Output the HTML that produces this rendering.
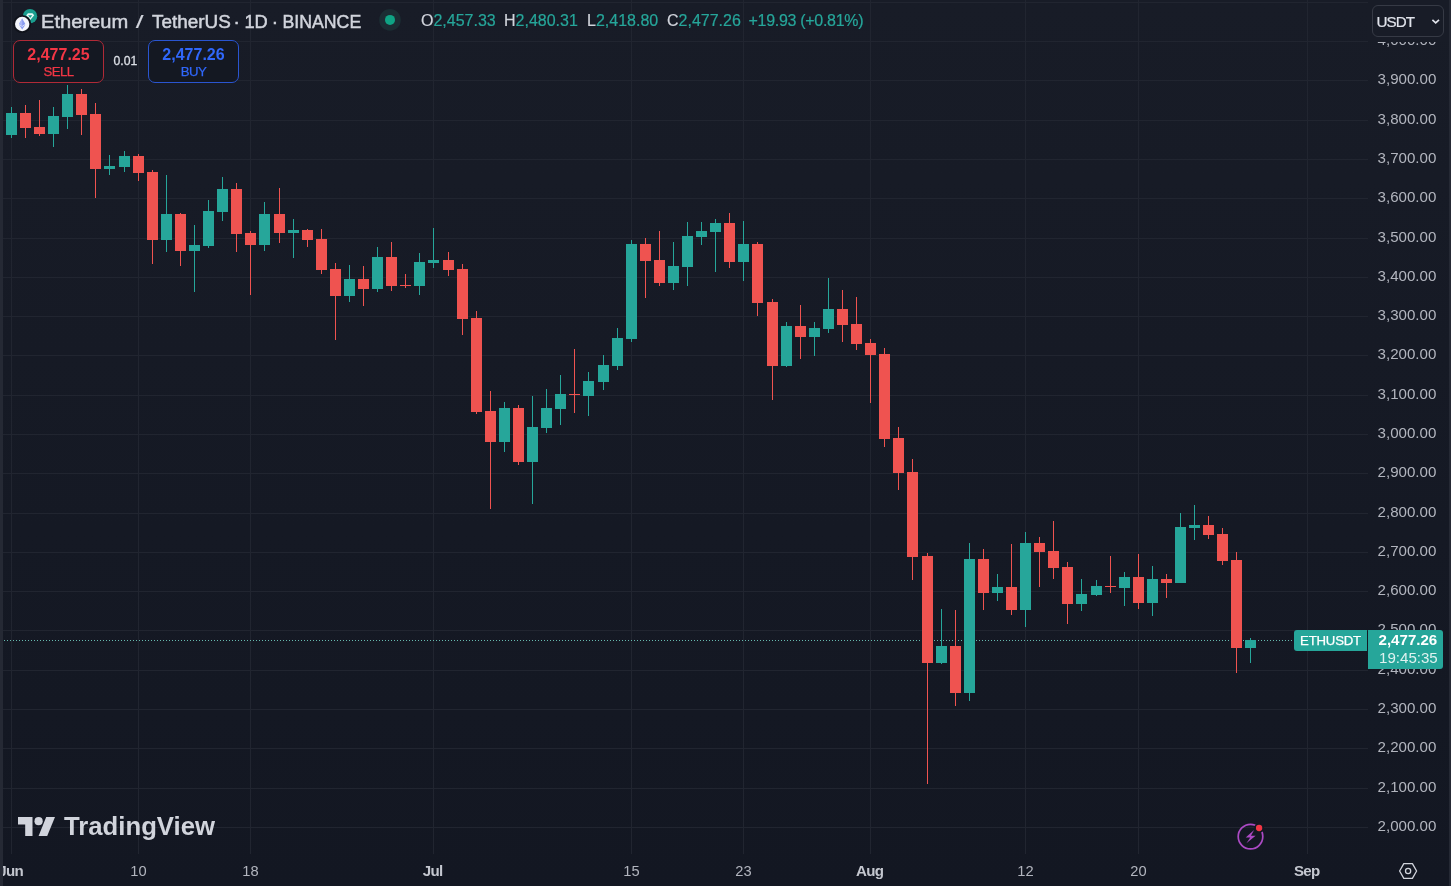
<!DOCTYPE html>
<html><head><meta charset="utf-8"><title>ETHUSDT</title>
<style>
*{margin:0;padding:0;box-sizing:border-box}
html,body{width:1451px;height:886px;overflow:hidden}
#root{position:absolute;left:0;top:0;width:1451px;height:886px;will-change:transform}
body{position:relative;background:linear-gradient(180deg,#181c27 0%,#131722 100%);font-family:"Liberation Sans",sans-serif;color:#d1d4dc}
.abs{position:absolute}
.hg{position:absolute;left:3px;width:1365px;height:1px;background:#212530}
.vg{position:absolute;top:0;width:1px;height:854px;background:#212530}
.pl{position:absolute;left:1377.6px;width:60px;height:20px;line-height:20px;font-size:15.1px;color:#b2b5be;white-space:nowrap}
.tl{position:absolute;top:860px;width:81px;height:22px;line-height:22px;text-align:center;font-size:14.7px;color:#b2b5be}
.tl.b{font-weight:bold;color:#c4c7cf;font-size:15.1px;letter-spacing:-0.7px;line-height:21.4px}
#lstrip{position:absolute;left:0;top:0;width:3px;height:886px;background:#252934}
#rstrip{position:absolute;left:1449px;top:0;width:2px;height:886px;background:#252934}

.t{position:absolute;white-space:nowrap;line-height:1}
#title{left:41.6px;top:12.3px;font-size:18.9px;color:#d1d4dc;letter-spacing:0.02px;-webkit-text-stroke:0.35px #d1d4dc}
.leg{top:13.4px;font-size:16px;color:#26a69a;-webkit-text-stroke:0.2px}
.leg i{font-style:normal;color:#d1d4dc}
.btn{position:absolute;top:40px;width:91px;height:43px;border-radius:7px;border:1px solid;text-align:center}
.btn b{display:block;font-size:16px;line-height:16px;margin-top:5.7px;letter-spacing:0px}
.btn span{display:block;font-size:13.2px;line-height:15px;margin-top:1.2px;letter-spacing:-0.6px;-webkit-text-stroke:0.25px}
#sell{left:13px;border-color:#b02a37;color:#f23645;background:#141822}
#buy{left:148px;border-color:#2a55d0;color:#3067fa;background:#141822}
#spread{left:113.5px;top:55px;font-size:12.2px;color:#dcdfe6;-webkit-text-stroke:0.3px}
#usdtcover{position:absolute;left:1368px;top:0;width:81px;height:42px;background:#181c27}
#usdt{position:absolute;left:1372px;top:5px;width:72px;height:32px;border:1px solid #363a45;border-radius:6px;background:#181c27}
#usdt span{position:absolute;left:3.6px;top:7.6px;font-size:15.2px;line-height:16px;color:#e0e3eb;letter-spacing:-1px;-webkit-text-stroke:0.2px}
#pline{position:absolute;left:0px;top:640px;width:1294px;height:1px;background-image:linear-gradient(90deg,#66baaf 0,#66baaf 1px,transparent 1px,transparent 3px);background-size:3px 1px;background-position:1px 0}
#symlab{position:absolute;left:1294px;top:630px;width:73px;height:21px;background:#26a69a;border-radius:3px 0 0 3px;color:#fff;font-size:13.2px;line-height:21px;text-align:center;letter-spacing:-0.2px;-webkit-text-stroke:0.25px}
#prlab{position:absolute;left:1368px;top:630px;width:75px;height:39px;background:#26a69a;border-radius:0 3px 3px 0;color:#fff}
#prlab b{position:absolute;left:10.5px;top:0.5px;font-size:15.1px;line-height:18px;font-weight:bold}
#prlab span{position:absolute;left:11px;top:18.5px;font-size:15.1px;line-height:18px;color:rgba(255,255,255,.85)}
</style></head><body><div id="root">
<div id="grid">
<div class="hg" style="top:2px"></div><div class="hg" style="top:41px"></div><div class="hg" style="top:80px"></div><div class="hg" style="top:120px"></div><div class="hg" style="top:159px"></div><div class="hg" style="top:198px"></div><div class="hg" style="top:238px"></div><div class="hg" style="top:277px"></div><div class="hg" style="top:316px"></div><div class="hg" style="top:355px"></div><div class="hg" style="top:395px"></div><div class="hg" style="top:434px"></div><div class="hg" style="top:473px"></div><div class="hg" style="top:513px"></div><div class="hg" style="top:552px"></div><div class="hg" style="top:591px"></div><div class="hg" style="top:630px"></div><div class="hg" style="top:670px"></div><div class="hg" style="top:709px"></div><div class="hg" style="top:748px"></div><div class="hg" style="top:788px"></div><div class="hg" style="top:827px"></div>
<div class="vg" style="left:11px"></div><div class="vg" style="left:138px"></div><div class="vg" style="left:250px"></div><div class="vg" style="left:433px"></div><div class="vg" style="left:631px"></div><div class="vg" style="left:743px"></div><div class="vg" style="left:870px"></div><div class="vg" style="left:1025px"></div><div class="vg" style="left:1138px"></div><div class="vg" style="left:1307px"></div>
</div>
<div id="pline"></div>
<svg class="abs" style="left:0;top:0" width="1368" height="853" shape-rendering="crispEdges">
<rect x="11" y="107" width="1" height="31" fill="#26a69a"/>
<rect x="6" y="113" width="11" height="22" fill="#26a69a"/>
<rect x="25" y="105" width="1" height="33" fill="#ef5350"/>
<rect x="20" y="113" width="11" height="15" fill="#ef5350"/>
<rect x="39" y="100" width="1" height="36" fill="#ef5350"/>
<rect x="34" y="127" width="11" height="7" fill="#ef5350"/>
<rect x="53" y="107" width="1" height="40" fill="#26a69a"/>
<rect x="48" y="116" width="11" height="18" fill="#26a69a"/>
<rect x="67" y="85" width="1" height="44" fill="#26a69a"/>
<rect x="62" y="94" width="11" height="23" fill="#26a69a"/>
<rect x="81" y="89" width="1" height="46" fill="#ef5350"/>
<rect x="76" y="94" width="11" height="21" fill="#ef5350"/>
<rect x="95" y="103" width="1" height="95" fill="#ef5350"/>
<rect x="90" y="114" width="11" height="55" fill="#ef5350"/>
<rect x="109" y="155" width="1" height="20" fill="#26a69a"/>
<rect x="104" y="166" width="11" height="3" fill="#26a69a"/>
<rect x="124" y="151" width="1" height="21" fill="#26a69a"/>
<rect x="119" y="156" width="11" height="11" fill="#26a69a"/>
<rect x="138" y="154" width="1" height="27" fill="#ef5350"/>
<rect x="133" y="156" width="11" height="17" fill="#ef5350"/>
<rect x="152" y="170" width="1" height="94" fill="#ef5350"/>
<rect x="147" y="172" width="11" height="68" fill="#ef5350"/>
<rect x="166" y="175" width="1" height="77" fill="#26a69a"/>
<rect x="161" y="214" width="11" height="26" fill="#26a69a"/>
<rect x="180" y="213" width="1" height="53" fill="#ef5350"/>
<rect x="175" y="214" width="11" height="37" fill="#ef5350"/>
<rect x="194" y="225" width="1" height="67" fill="#26a69a"/>
<rect x="189" y="245" width="11" height="6" fill="#26a69a"/>
<rect x="208" y="200" width="1" height="48" fill="#26a69a"/>
<rect x="203" y="211" width="11" height="35" fill="#26a69a"/>
<rect x="222" y="177" width="1" height="44" fill="#26a69a"/>
<rect x="217" y="189" width="11" height="23" fill="#26a69a"/>
<rect x="236" y="183" width="1" height="69" fill="#ef5350"/>
<rect x="231" y="189" width="11" height="45" fill="#ef5350"/>
<rect x="250" y="231" width="1" height="64" fill="#ef5350"/>
<rect x="245" y="233" width="11" height="12" fill="#ef5350"/>
<rect x="264" y="202" width="1" height="49" fill="#26a69a"/>
<rect x="259" y="214" width="11" height="31" fill="#26a69a"/>
<rect x="279" y="188" width="1" height="55" fill="#ef5350"/>
<rect x="274" y="214" width="11" height="19" fill="#ef5350"/>
<rect x="293" y="219" width="1" height="39" fill="#26a69a"/>
<rect x="288" y="230" width="11" height="3" fill="#26a69a"/>
<rect x="307" y="229" width="1" height="18" fill="#ef5350"/>
<rect x="302" y="230" width="11" height="10" fill="#ef5350"/>
<rect x="321" y="229" width="1" height="45" fill="#ef5350"/>
<rect x="316" y="239" width="11" height="31" fill="#ef5350"/>
<rect x="335" y="263" width="1" height="77" fill="#ef5350"/>
<rect x="330" y="269" width="11" height="27" fill="#ef5350"/>
<rect x="349" y="265" width="1" height="37" fill="#26a69a"/>
<rect x="344" y="279" width="11" height="17" fill="#26a69a"/>
<rect x="363" y="266" width="1" height="40" fill="#ef5350"/>
<rect x="358" y="279" width="11" height="10" fill="#ef5350"/>
<rect x="377" y="247" width="1" height="45" fill="#26a69a"/>
<rect x="372" y="257" width="11" height="32" fill="#26a69a"/>
<rect x="391" y="242" width="1" height="49" fill="#ef5350"/>
<rect x="386" y="257" width="11" height="29" fill="#ef5350"/>
<rect x="405" y="274" width="1" height="14" fill="#ef5350"/>
<rect x="400" y="285" width="11" height="1" fill="#ef5350"/>
<rect x="419" y="253" width="1" height="42" fill="#26a69a"/>
<rect x="414" y="262" width="11" height="24" fill="#26a69a"/>
<rect x="433" y="228" width="1" height="40" fill="#26a69a"/>
<rect x="428" y="260" width="11" height="3" fill="#26a69a"/>
<rect x="448" y="252" width="1" height="24" fill="#ef5350"/>
<rect x="443" y="260" width="11" height="10" fill="#ef5350"/>
<rect x="462" y="264" width="1" height="71" fill="#ef5350"/>
<rect x="457" y="269" width="11" height="50" fill="#ef5350"/>
<rect x="476" y="311" width="1" height="103" fill="#ef5350"/>
<rect x="471" y="318" width="11" height="94" fill="#ef5350"/>
<rect x="490" y="391" width="1" height="118" fill="#ef5350"/>
<rect x="485" y="411" width="11" height="31" fill="#ef5350"/>
<rect x="504" y="402" width="1" height="50" fill="#26a69a"/>
<rect x="499" y="408" width="11" height="34" fill="#26a69a"/>
<rect x="518" y="405" width="1" height="60" fill="#ef5350"/>
<rect x="513" y="408" width="11" height="54" fill="#ef5350"/>
<rect x="532" y="396" width="1" height="108" fill="#26a69a"/>
<rect x="527" y="427" width="11" height="35" fill="#26a69a"/>
<rect x="546" y="389" width="1" height="44" fill="#26a69a"/>
<rect x="541" y="408" width="11" height="20" fill="#26a69a"/>
<rect x="560" y="375" width="1" height="50" fill="#26a69a"/>
<rect x="555" y="394" width="11" height="15" fill="#26a69a"/>
<rect x="574" y="349" width="1" height="64" fill="#ef5350"/>
<rect x="569" y="394" width="11" height="1" fill="#ef5350"/>
<rect x="588" y="372" width="1" height="44" fill="#26a69a"/>
<rect x="583" y="381" width="11" height="15" fill="#26a69a"/>
<rect x="603" y="355" width="1" height="35" fill="#26a69a"/>
<rect x="598" y="365" width="11" height="17" fill="#26a69a"/>
<rect x="617" y="328" width="1" height="42" fill="#26a69a"/>
<rect x="612" y="338" width="11" height="28" fill="#26a69a"/>
<rect x="631" y="240" width="1" height="102" fill="#26a69a"/>
<rect x="626" y="244" width="11" height="95" fill="#26a69a"/>
<rect x="645" y="238" width="1" height="60" fill="#ef5350"/>
<rect x="640" y="244" width="11" height="17" fill="#ef5350"/>
<rect x="659" y="231" width="1" height="55" fill="#ef5350"/>
<rect x="654" y="260" width="11" height="23" fill="#ef5350"/>
<rect x="673" y="242" width="1" height="48" fill="#26a69a"/>
<rect x="668" y="266" width="11" height="17" fill="#26a69a"/>
<rect x="687" y="222" width="1" height="64" fill="#26a69a"/>
<rect x="682" y="236" width="11" height="31" fill="#26a69a"/>
<rect x="701" y="222" width="1" height="23" fill="#26a69a"/>
<rect x="696" y="231" width="11" height="6" fill="#26a69a"/>
<rect x="715" y="219" width="1" height="53" fill="#26a69a"/>
<rect x="710" y="223" width="11" height="9" fill="#26a69a"/>
<rect x="729" y="213" width="1" height="55" fill="#ef5350"/>
<rect x="724" y="223" width="11" height="39" fill="#ef5350"/>
<rect x="743" y="221" width="1" height="60" fill="#26a69a"/>
<rect x="738" y="244" width="11" height="18" fill="#26a69a"/>
<rect x="757" y="242" width="1" height="74" fill="#ef5350"/>
<rect x="752" y="244" width="11" height="59" fill="#ef5350"/>
<rect x="772" y="299" width="1" height="101" fill="#ef5350"/>
<rect x="767" y="302" width="11" height="64" fill="#ef5350"/>
<rect x="786" y="322" width="1" height="45" fill="#26a69a"/>
<rect x="781" y="326" width="11" height="40" fill="#26a69a"/>
<rect x="800" y="305" width="1" height="54" fill="#ef5350"/>
<rect x="795" y="326" width="11" height="11" fill="#ef5350"/>
<rect x="814" y="322" width="1" height="34" fill="#26a69a"/>
<rect x="809" y="328" width="11" height="9" fill="#26a69a"/>
<rect x="828" y="278" width="1" height="55" fill="#26a69a"/>
<rect x="823" y="309" width="11" height="20" fill="#26a69a"/>
<rect x="842" y="290" width="1" height="52" fill="#ef5350"/>
<rect x="837" y="309" width="11" height="16" fill="#ef5350"/>
<rect x="856" y="297" width="1" height="53" fill="#ef5350"/>
<rect x="851" y="324" width="11" height="20" fill="#ef5350"/>
<rect x="870" y="339" width="1" height="64" fill="#ef5350"/>
<rect x="865" y="343" width="11" height="12" fill="#ef5350"/>
<rect x="884" y="348" width="1" height="99" fill="#ef5350"/>
<rect x="879" y="354" width="11" height="85" fill="#ef5350"/>
<rect x="898" y="427" width="1" height="63" fill="#ef5350"/>
<rect x="893" y="438" width="11" height="35" fill="#ef5350"/>
<rect x="912" y="459" width="1" height="121" fill="#ef5350"/>
<rect x="907" y="472" width="11" height="85" fill="#ef5350"/>
<rect x="927" y="553" width="1" height="231" fill="#ef5350"/>
<rect x="922" y="556" width="11" height="107" fill="#ef5350"/>
<rect x="941" y="609" width="1" height="55" fill="#26a69a"/>
<rect x="936" y="646" width="11" height="17" fill="#26a69a"/>
<rect x="955" y="610" width="1" height="96" fill="#ef5350"/>
<rect x="950" y="646" width="11" height="47" fill="#ef5350"/>
<rect x="969" y="543" width="1" height="158" fill="#26a69a"/>
<rect x="964" y="559" width="11" height="134" fill="#26a69a"/>
<rect x="983" y="549" width="1" height="61" fill="#ef5350"/>
<rect x="978" y="559" width="11" height="34" fill="#ef5350"/>
<rect x="997" y="574" width="1" height="27" fill="#26a69a"/>
<rect x="992" y="587" width="11" height="6" fill="#26a69a"/>
<rect x="1011" y="544" width="1" height="71" fill="#ef5350"/>
<rect x="1006" y="587" width="11" height="23" fill="#ef5350"/>
<rect x="1025" y="532" width="1" height="95" fill="#26a69a"/>
<rect x="1020" y="543" width="11" height="67" fill="#26a69a"/>
<rect x="1039" y="537" width="1" height="50" fill="#ef5350"/>
<rect x="1034" y="543" width="11" height="9" fill="#ef5350"/>
<rect x="1053" y="521" width="1" height="58" fill="#ef5350"/>
<rect x="1048" y="551" width="11" height="17" fill="#ef5350"/>
<rect x="1067" y="562" width="1" height="62" fill="#ef5350"/>
<rect x="1062" y="567" width="11" height="37" fill="#ef5350"/>
<rect x="1081" y="579" width="1" height="32" fill="#26a69a"/>
<rect x="1076" y="594" width="11" height="10" fill="#26a69a"/>
<rect x="1096" y="580" width="1" height="16" fill="#26a69a"/>
<rect x="1091" y="586" width="11" height="9" fill="#26a69a"/>
<rect x="1110" y="556" width="1" height="37" fill="#ef5350"/>
<rect x="1105" y="586" width="11" height="1" fill="#ef5350"/>
<rect x="1124" y="572" width="1" height="34" fill="#26a69a"/>
<rect x="1119" y="577" width="11" height="11" fill="#26a69a"/>
<rect x="1138" y="554" width="1" height="55" fill="#ef5350"/>
<rect x="1133" y="577" width="11" height="26" fill="#ef5350"/>
<rect x="1152" y="566" width="1" height="50" fill="#26a69a"/>
<rect x="1147" y="579" width="11" height="24" fill="#26a69a"/>
<rect x="1166" y="574" width="1" height="24" fill="#ef5350"/>
<rect x="1161" y="579" width="11" height="4" fill="#ef5350"/>
<rect x="1180" y="513" width="1" height="70" fill="#26a69a"/>
<rect x="1175" y="527" width="11" height="56" fill="#26a69a"/>
<rect x="1194" y="505" width="1" height="35" fill="#26a69a"/>
<rect x="1189" y="525" width="11" height="3" fill="#26a69a"/>
<rect x="1208" y="516" width="1" height="23" fill="#ef5350"/>
<rect x="1203" y="525" width="11" height="10" fill="#ef5350"/>
<rect x="1222" y="528" width="1" height="37" fill="#ef5350"/>
<rect x="1217" y="534" width="11" height="27" fill="#ef5350"/>
<rect x="1236" y="552" width="1" height="121" fill="#ef5350"/>
<rect x="1231" y="560" width="11" height="88" fill="#ef5350"/>
<rect x="1250" y="638" width="1" height="25" fill="#26a69a"/>
<rect x="1245" y="640" width="11" height="8" fill="#26a69a"/>
</svg>

<div id="symlab">ETHUSDT</div>

<div id="paxis">
<div class="pl" style="top:30px">4,000.00</div><div class="pl" style="top:69px">3,900.00</div><div class="pl" style="top:109px">3,800.00</div><div class="pl" style="top:148px">3,700.00</div><div class="pl" style="top:187px">3,600.00</div><div class="pl" style="top:227px">3,500.00</div><div class="pl" style="top:266px">3,400.00</div><div class="pl" style="top:305px">3,300.00</div><div class="pl" style="top:344px">3,200.00</div><div class="pl" style="top:384px">3,100.00</div><div class="pl" style="top:423px">3,000.00</div><div class="pl" style="top:462px">2,900.00</div><div class="pl" style="top:502px">2,800.00</div><div class="pl" style="top:541px">2,700.00</div><div class="pl" style="top:580px">2,600.00</div><div class="pl" style="top:619px">2,500.00</div><div class="pl" style="top:659px">2,400.00</div><div class="pl" style="top:698px">2,300.00</div><div class="pl" style="top:737px">2,200.00</div><div class="pl" style="top:777px">2,100.00</div><div class="pl" style="top:816px">2,000.00</div>
</div>

<div id="prlab"><b>2,477.26</b><span>19:45:35</span></div>
<div id="taxis">
<div class="tl b" style="left:-29.8px">Jun</div><div class="tl" style="left:98px">10</div><div class="tl" style="left:210px">18</div><div class="tl b" style="left:392.2px">Jul</div><div class="tl" style="left:591px">15</div><div class="tl" style="left:703px">23</div><div class="tl b" style="left:829.2px">Aug</div><div class="tl" style="left:985px">12</div><div class="tl" style="left:1098px">20</div><div class="tl b" style="left:1266.2px">Sep</div>
</div>
<div id="lstrip"></div><div id="rstrip"></div>

<svg class="abs" style="left:12px;top:6px" width="30" height="30" viewBox="0 0 30 30">
  <circle cx="18" cy="10.2" r="7.2" fill="#1a9e8f"/>
  <path d="M14.2 9.2 L16 7.2 H20.4 L22.2 9.2 L18.2 14 Z M16.1 9.3 H20.3 L18.2 12 Z" fill="#e8fbf8" fill-rule="evenodd"/>
  <circle cx="10.2" cy="18" r="9.1" fill="#10131b"/>
  <circle cx="10.2" cy="18" r="7.2" fill="#f4f5fb"/>
  <path d="M10.2 12.6 L13.4 18 L10.2 19.9 L7 18 Z" fill="#8a9cf0"/>
  <path d="M10.2 12.6 L10.2 19.9 L7 18 Z" fill="#a9b6f5"/>
  <path d="M7 18.8 L10.2 20.7 L13.4 18.8 L10.2 23.4 Z" fill="#8a9cf0"/>
</svg>
<svg class="abs" style="left:0;top:0" width="380" height="40"><g font-family="Liberation Sans, sans-serif" font-size="18.9" fill="#d1d4dc" stroke="#d1d4dc" stroke-width="0.5">
<text x="41" y="27.6" textLength="87.2" lengthAdjust="spacingAndGlyphs">Ethereum</text>
<text x="135.8" y="27.6" textLength="7.8" lengthAdjust="spacingAndGlyphs" stroke-width="0.1">/</text>
<text x="152.1" y="27.6" textLength="78.75" lengthAdjust="spacingAndGlyphs">TetherUS</text>
<text x="233.6" y="27.6">·</text>
<text x="244.4" y="27.6" textLength="23.3" lengthAdjust="spacingAndGlyphs">1D</text>
<text x="271.8" y="27.6">·</text>
<text x="282.5" y="27.6" textLength="78.7" lengthAdjust="spacingAndGlyphs">BINANCE</text>
</g></svg>
<svg class="abs" style="left:378px;top:8px" width="24" height="24" viewBox="0 0 24 24"><circle cx="12" cy="11.9" r="10.8" fill="#1b2d33"/><circle cx="12" cy="11.9" r="5" fill="#0fa384"/></svg>
<div class="t leg" style="left:421px"><i>O</i>2,457.33</div>
<div class="t leg" style="left:504px"><i>H</i>2,480.31</div>
<div class="t leg" style="left:587px"><i>L</i>2,418.80</div>
<div class="t leg" style="left:667px"><i>C</i>2,477.26</div>
<div class="t leg" style="left:748.5px;letter-spacing:-0.3px">+19.93 (+0.81%)</div>
<div class="btn" id="sell"><b>2,477.25</b><span>SELL</span></div>
<div class="t" id="spread">0.01</div>
<div class="btn" id="buy"><b>2,477.26</b><span>BUY</span></div>
<div id="usdtcover"></div><div id="usdt"><span>USDT</span><svg class="abs" style="left:58px;top:12px" width="10" height="8" viewBox="0 0 10 8"><path d="M1.4 1.8 L4.7 4.8 L8 1.8" fill="none" stroke="#e0e3eb" stroke-width="1.7"/></svg></div>


<svg class="abs" style="left:18px;top:812px" width="200" height="30" viewBox="0 0 200 30">
  <g fill="#d1d4dc">
  <g transform="translate(0,0.6)"><path d="M0 4.5 H14.5 V23.5 H7.2 V11.8 H0 Z"/>
  <circle cx="20.6" cy="8.6" r="4.1"/>
  <path d="M28.2 4.5 H37 L29.2 23.5 H20.6 Z"/></g>
  <text x="46" y="23.3" font-family="Liberation Sans, sans-serif" font-weight="bold" font-size="26.2" textLength="151" lengthAdjust="spacingAndGlyphs">TradingView</text>
  </g>
</svg>
<svg class="abs" style="left:1236px;top:822px" width="30" height="30" viewBox="0 0 30 30">
  <circle cx="14.5" cy="14.6" r="12.3" fill="none" stroke="#ab4ac4" stroke-width="1.7"/>
  <path d="M18.1 7.9 L9.7 15.4 H14.3 L10.4 21.2 L19.6 13.8 H15 Z" fill="#ab4ac4"/>
  <circle cx="23.1" cy="6.0" r="4.9" fill="#141823"/>
  <circle cx="23.1" cy="6.0" r="3.15" fill="#f23645"/>
</svg>
<svg class="abs" style="left:1398px;top:861.3px" width="20" height="20" viewBox="0 0 20 20">
  <path d="M1.6 10 L5.8 2.6 H14.4 L18.6 10 L14.4 17.4 H5.8 Z" fill="none" stroke="#d1d4dc" stroke-width="1.3" stroke-linejoin="round"/>
  <circle cx="10.1" cy="10" r="2.6" fill="none" stroke="#d1d4dc" stroke-width="1.3"/>
</svg>

</div></body></html>
